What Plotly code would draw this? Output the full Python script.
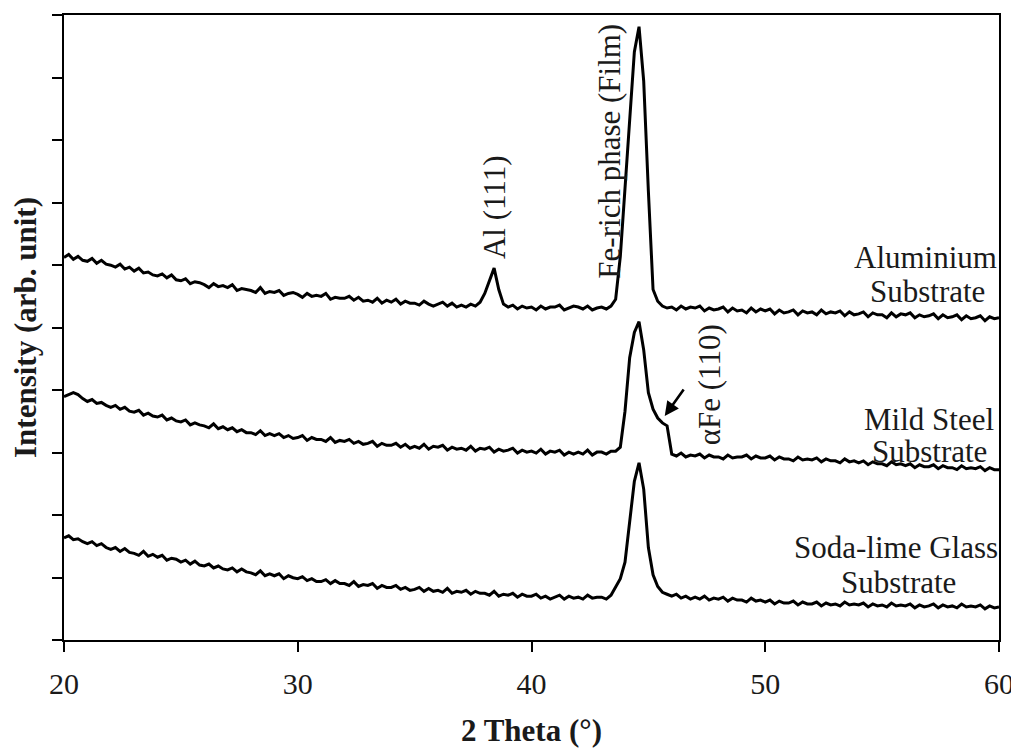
import numpy as np
import plotly.graph_objects as go

# 2-theta sampling grid (degrees): 20.0 .. 60.0 every 0.2
two_theta = np.round(20.0 + 0.2 * np.arange(201), 1)

# Intensity (arb. units), one row per degree (5 samples each)
aluminium = [
    393, 396, 391, 394, 390,  389, 392, 387, 390, 386,  385, 383, 386, 381, 383,
    379, 382, 377, 378, 375,  374, 376, 372, 375, 370,  369, 371, 366, 368, 367,
    365, 362, 366, 363, 364,  362, 365, 359, 361, 360,  359, 357, 362, 356, 358,
    357, 359, 354, 356, 357,  355, 352, 356, 353, 354,  353, 356, 350, 352, 351,
    351, 353, 349, 352, 348,  349, 347, 351, 346, 349,  347, 350, 345, 348, 346,
    346, 344, 348, 345, 343,  345, 347, 343, 346, 342,  344, 342, 345, 343, 347,
    356, 370, 382, 360, 345,  342, 344, 340, 343, 341,  342, 339, 343, 340, 342,
    342, 344, 339, 341, 343,  342, 340, 343, 339, 341,  342, 340, 343, 350, 394,
    464, 534, 604, 630, 574,  461, 360, 348, 343, 341,  342, 339, 343, 340, 342,
    341, 343, 338, 341, 339,  340, 342, 337, 341, 338,  339, 336, 341, 337, 340,
    338, 340, 335, 339, 336,  337, 339, 334, 338, 336,  337, 334, 339, 335, 337,
    336, 338, 333, 337, 334,  335, 337, 332, 336, 334,  334, 331, 336, 332, 335,
    334, 336, 331, 334, 332,  333, 335, 330, 334, 331,  332, 334, 329, 333, 330,
    331, 333, 328, 332, 330,  331,
]

mild_steel = [
    250, 252, 254, 252, 248,  245, 247, 243, 244, 241,  239, 241, 237, 239, 235,
    234, 236, 231, 233, 230,  229, 231, 226, 228, 225,  224, 226, 221, 223, 221,
    220, 218, 222, 217, 219,  216, 218, 214, 216, 213,  213, 211, 215, 210, 212,
    210, 212, 208, 210, 207,  208, 210, 205, 208, 206,  206, 204, 208, 203, 205,
    204, 206, 202, 204, 201,  202, 204, 199, 202, 200,  200, 202, 198, 201, 197,
    199, 197, 201, 196, 199,  198, 200, 195, 198, 196,  197, 195, 199, 194, 197,
    196, 198, 193, 196, 194,  195, 197, 192, 195, 193,  194, 192, 196, 191, 194,
    193, 195, 190, 193, 191,  193, 191, 195, 190, 193,  193, 191, 194, 194, 198,
    235, 290, 316, 327, 298,  254, 237, 228, 223, 220,  191, 189, 192, 188, 190,
    189, 191, 187, 190, 188,  188, 186, 190, 187, 188,  188, 190, 186, 189, 187,
    187, 189, 185, 188, 186,  186, 184, 188, 185, 186,  185, 187, 183, 186, 184,
    184, 182, 186, 183, 184,  182, 184, 180, 183, 181,  181, 179, 183, 180, 181,
    179, 181, 177, 180, 178,  178, 180, 176, 179, 177,  177, 175, 179, 176, 177,
    176, 178, 174, 177, 175,  175,
]

soda_lime = [
    105, 107, 103, 104, 101,  99, 101, 97, 99, 95,  93, 95, 91, 94, 90,
    89, 87, 91, 86, 88,  85, 87, 82, 84, 83,  80, 82, 78, 81, 77,
    76, 78, 74, 76, 73,  72, 74, 70, 73, 70,  69, 67, 71, 66, 68,
    66, 68, 63, 66, 64,  63, 65, 61, 63, 60,  60, 62, 58, 61, 58,
    58, 56, 60, 55, 57,  56, 58, 53, 56, 54,  54, 56, 52, 54, 51,
    52, 54, 50, 53, 50,  51, 49, 53, 48, 50,  49, 51, 47, 50, 48,
    48, 46, 50, 45, 47,  46, 48, 44, 47, 45,  45, 47, 43, 45, 42,
    44, 46, 42, 45, 43,  44, 42, 46, 43, 44,  44, 42, 46, 54, 63,
    80, 120, 163, 182, 155,  95, 67, 55, 49, 47,  45, 47, 43, 45, 42,
    44, 42, 45, 41, 43,  42, 44, 40, 43, 41,  41, 39, 43, 40, 41,
    39, 41, 37, 40, 38,  38, 40, 36, 39, 37,  37, 39, 35, 38, 36,
    37, 35, 39, 36, 37,  36, 38, 34, 37, 35,  36, 34, 38, 35, 36,
    35, 37, 33, 36, 34,  35, 37, 33, 36, 34,  35, 33, 37, 34, 35,
    34, 36, 32, 35, 33,  34,
]

series = [
    ("Aluminium Substrate", aluminium),
    ("Mild Steel Substrate", mild_steel),
    ("Soda-lime Glass Substrate", soda_lime),
]

x_ticks = [20, 30, 40, 50, 60]
y_max = 642
y_step = 64.2

SERIF = "Liberation Serif, Times New Roman, serif"
TXT = "#1a1a1a"

fig = go.Figure()
for name, vals in series:
    fig.add_trace(go.Scatter(
        x=two_theta, y=vals, mode="lines", name=name,
        line=dict(color="black", width=3), showlegend=False,
    ))

# substrate labels: (text, centre x in paper coords, y in data units)
sub_labels = [
    ("Aluminium", 0.921, 393), ("Substrate", 0.923, 358),
    ("Mild Steel", 0.925, 227), ("Substrate", 0.926, 194),
    ("Soda-lime Glass", 0.890, 95), ("Substrate", 0.892, 59),
]
for txt, xp, yv in sub_labels:
    fig.add_annotation(
        x=xp, xref="paper", y=yv, yref="y", text=txt, showarrow=False,
        xanchor="center", yanchor="middle",
        font=dict(family=SERIF, size=31, color=TXT),
    )

# peak labels (rotated)
peak_labels = [
    ("Al (111)", 38.45, 445),
    ("Fe-rich phase (Film)", 43.33, 502),
    ("\u03b1Fe (110)", 47.65, 262),
]
for txt, xv, yv in peak_labels:
    fig.add_annotation(
        x=xv, y=yv, text=txt, showarrow=False, textangle=-90,
        xanchor="center", yanchor="middle",
        font=dict(family=SERIF, size=31, color=TXT),
    )

# arrow to the alpha-Fe shoulder
fig.add_annotation(
    x=45.7, y=230, text="", showarrow=True, arrowhead=2, arrowsize=1.1,
    arrowwidth=2.6, arrowcolor="black", ax=20, ay=-28,
)

# the page body has an 8px margin, so the figure is offset by 8px
fig.update_layout(
    width=1011, height=740,
    margin=dict(l=56, r=19, t=5, b=93),
    plot_bgcolor="white", paper_bgcolor="white",
    font=dict(family=SERIF, color="black"),
)
fig.update_xaxes(
    range=[20, 60], tickvals=x_ticks, ticks="outside", ticklen=10, tickwidth=2,
    tickcolor="black", showline=True, linecolor="black", linewidth=2,
    mirror=True, showgrid=False, zeroline=False, ticklabelstandoff=6,
    tickfont=dict(family=SERIF, size=30, color=TXT),
    title=dict(text="<b>2 Theta (°)</b>", font=dict(family=SERIF, size=31, color=TXT),
               standoff=21),
)
fig.update_yaxes(
    range=[0, y_max], tick0=0, dtick=y_step, ticks="outside", ticklen=10, tickwidth=2,
    tickcolor="black", showticklabels=False, showline=True, linecolor="black",
    linewidth=2, mirror=True, showgrid=False, zeroline=False,
    title=dict(text="<b>Intensity (arb. unit)</b>",
               font=dict(family=SERIF, size=31, color=TXT), standoff=9),
)

fig.write_html("out.html")
